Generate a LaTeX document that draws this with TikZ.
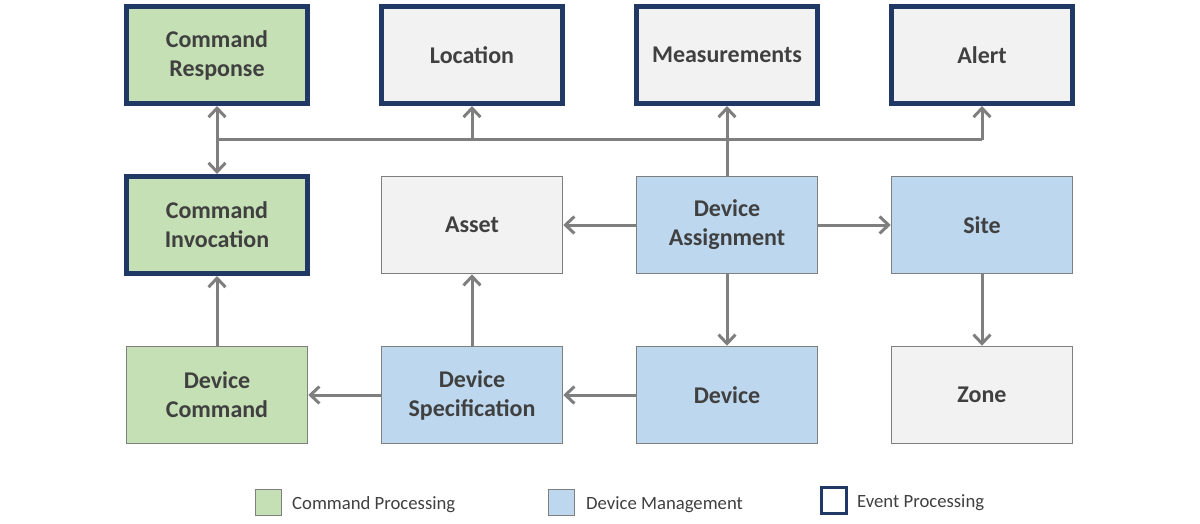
\documentclass[tikz,border=0pt]{standalone}
\usepackage{fontspec}
\setmainfont{Carlito}
\usetikzlibrary{arrows.meta}
\definecolor{cgreen}{HTML}{C5E0B4}
\definecolor{cblue}{HTML}{BDD7EE}
\definecolor{cgray}{HTML}{F2F2F2}
\definecolor{cnavy}{HTML}{203864}
\definecolor{cline}{HTML}{7F7F7F}
\definecolor{ctext}{HTML}{404040}
\begin{document}
\begin{tikzpicture}[x=1pt,y=-1pt,
  box/.style={minimum width=181pt, minimum height=97pt, draw=cline, line width=1.5pt,
    text=ctext, font=\fontsize{24}{29}\selectfont\bfseries, align=center, inner sep=0pt},
  evbox/.style={box, draw=cnavy, line width=5pt},
  gbox/.style={fill=cgreen},
  bbox/.style={fill=cblue},
  ybox/.style={fill=cgray},
  two/.style={text depth=0pt, yshift=-1.5pt},
  link/.style={draw=cline, line width=3pt},
  conn/.style={link, -{Straight Barb[length=9pt,width=17pt]}},
  dconn/.style={link, {Straight Barb[length=9pt,width=17pt]}-{Straight Barb[length=9pt,width=17pt]}},
  legsq/.style={minimum width=26pt, minimum height=26pt, inner sep=0pt, draw=cline, line width=1pt},
  legtxt/.style={anchor=west, inner sep=0pt, text=ctext, font=\fontsize{18.7}{22}\selectfont}
]
\useasboundingbox (0,0) rectangle (1200,524);
\fill[white] (0,0) rectangle (1200,524);

% row 1
\node[evbox, gbox] (cresp) at (217,55) {Command\\Response};
\node[evbox, ybox] (loc)   at (472,55) {Location};
\node[evbox, ybox] (meas)  at (727,55) {Measurements};
\node[evbox, ybox] (alert) at (982,55) {Alert};
% row 2
\node[evbox, gbox] (cinv)  at (217,225) {Command\\Invocation};
\node[box, ybox]   (asset) at (472,225) {Asset};
\node[box, bbox]   (da)    at (727,225) {Device\\Assignment};
\node[box, bbox]   (site)  at (982,225) {Site};
% row 3
\node[box, gbox]   (dcmd)  at (217,395) {Device\\Command};
\node[box, bbox]   (dspec) at (472,395) {Device\\Specification};
\node[box, bbox]   (dev)   at (727,395) {Device};
\node[box, ybox]   (zone)  at (982,395) {Zone};

% event bus
\coordinate (jl) at (217,140);
\coordinate (jr) at (982,140);
\draw[link] (jl) -- (jr);
\draw[dconn] (cresp.south) -- (cinv.north);
\draw[conn] (da.north) -- (meas.south);
\draw[conn] (loc.south |- jl) -- (loc.south);
\draw[conn] (jr) -- (alert.south);

% relations
\draw[conn] (da.west) -- (asset.east);
\draw[conn] (da.east) -- (site.west);
\draw[conn] (da.south) -- (dev.north);
\draw[conn] (site.south) -- (zone.north);
\draw[conn] (dev.west) -- (dspec.east);
\draw[conn] (dspec.north) -- (asset.south);
\draw[conn] (dspec.west) -- (dcmd.east);
\draw[conn] (dcmd.north) -- (cinv.south);

% legend
\node[legsq, fill=cgreen] (lg1) at (268,502) {};
\node[legtxt] (lt1) at (292,505) {Command Processing};
\node[legsq, fill=cblue] (lg2) at (561,502) {};
\node[legtxt] (lt2) at (586,505) {Device Management};
\node[legsq, draw=cnavy, line width=3pt, fill=white, minimum width=25pt, minimum height=26pt] (lg3) at (833.5,500.5) {};
\node[legtxt] (lt3) at (857,503) {Event Processing};
\end{tikzpicture}
\end{document}
